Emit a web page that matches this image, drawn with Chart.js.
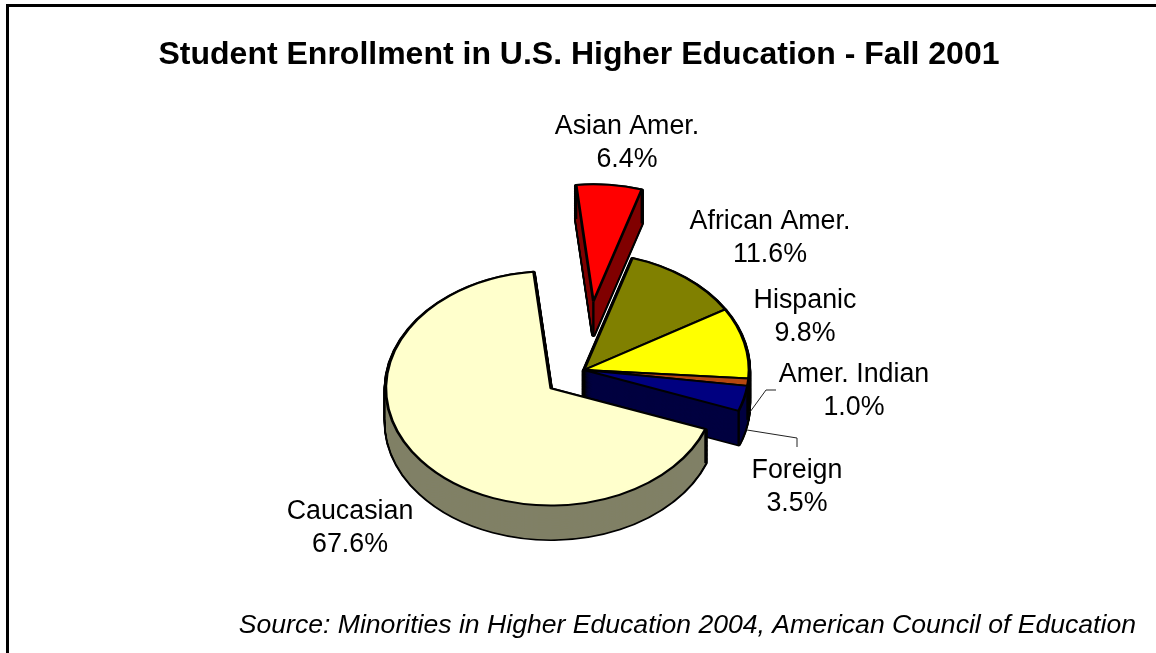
<!DOCTYPE html>
<html>
<head>
<meta charset="utf-8">
<title>Student Enrollment</title>
<script src="https://cdn.jsdelivr.net/npm/chart.js@4"></script>
<style>
  html, body { margin: 0; padding: 0; background: #fff; overflow: hidden; }
  canvas { display: block; }
</style>
</head>
<body>
<canvas id="chartEnroll" width="1156" height="653"></canvas>
<script>
const categories = ["Asian Amer.", "African Amer.", "Hispanic", "Amer. Indian", "Foreign", "Caucasian"];
const shares = [6.4, 11.6, 9.8, 1.0, 3.5, 67.6];
const chartTitle = "Student Enrollment in U.S. Higher Education - Fall 2001";
const sourceLine = "Source: Minorities in Higher Education 2004, American Council of Education";

const topColors = ["#FF0000", "#808000", "#FFFF00", "#B5480F", "#000080", "#FFFFCC"];
const sideColors = ["#800000", "#404000", "#808000", "#5A2408", "#000040", "#808066"];
// how far each slice is pulled out, px before the squash
const explode = [97, 0, 0, 0, 0, 42];

// pie placement on the page
const pieX = 584;
const pieY = 370;
const pieRadius = 165;
const squash = 0.71;
const depth = 34;
const fontName = '"Liberation Sans", Arial, sans-serif';
const labelCenters = [[627, 127], [770, 222], [805, 301], [854, 375], [797, 471], [350, 512]];
const lineGap = 33;
const leaders = [
  [[750, 412], [766, 390], [776, 390]],
  [[747, 430], [797, 438], [797, 447]]
];

let centerX = 0;
let centerY = 0;

const pie3d = {
  id: 'pie3d',
  afterDatasetsUpdate(chart) {
    // the offset option also changes the slice angle and radius, so move the arcs directly
    chart.getDatasetMeta(0).data.forEach((arc, i) => {
      centerX = arc.x;
      centerY = arc.y;
      const mid = (arc.startAngle + arc.endAngle) / 2;
      arc.x += Math.cos(mid) * explode[i];
      arc.y += Math.sin(mid) * explode[i];
    });
  },
  beforeDatasetsDraw(chart) {
    const ctx = chart.ctx;
    const arcs = chart.getDatasetMeta(0).data;
    ctx.save();
    ctx.translate(pieX - centerX, pieY);
    ctx.scale(1, squash);
    ctx.translate(0, -centerY);

    // walls: sweep each slice down, black first so only the silhouette stays
    const drop = depth / squash;
    arcs.forEach((arc, i) => {
      const real = arc.options;
      const base = { offset: 0, spacing: 0, borderRadius: 0, circular: true, borderAlign: 'center', borderJoinStyle: 'round', borderDash: [], borderDashOffset: 0 };
      arc.options = Object.assign({}, base, { backgroundColor: '#000', borderColor: '#000', borderWidth: 4.4 });
      for (let z = drop; z >= 0; z -= 1) {
        ctx.save();
        ctx.translate(0, z);
        arc.draw(ctx);
        ctx.restore();
      }
      arc.options = Object.assign({}, base, { backgroundColor: sideColors[i], borderColor: sideColors[i], borderWidth: 0 });
      for (let z = drop; z >= 0; z -= 1) {
        ctx.save();
        ctx.translate(0, z);
        arc.draw(ctx);
        ctx.restore();
      }
      arc.options = real;

      // vertical edges at the slice corners
      const corners = [[arc.x, arc.y],
        [arc.x + Math.cos(arc.startAngle) * arc.outerRadius, arc.y + Math.sin(arc.startAngle) * arc.outerRadius],
        [arc.x + Math.cos(arc.endAngle) * arc.outerRadius, arc.y + Math.sin(arc.endAngle) * arc.outerRadius]];
      ctx.strokeStyle = '#000';
      ctx.lineWidth = 2.4;
      corners.forEach(c => {
        ctx.beginPath();
        ctx.moveTo(c[0], c[1]);
        ctx.lineTo(c[0], c[1] + drop);
        ctx.stroke();
      });
    });
  },
  afterDatasetsDraw(chart) {
    chart.ctx.restore();
  },
  afterDraw(chart) {
    const ctx = chart.ctx;
    ctx.save();
    // frame is only open at the right and bottom
    ctx.fillStyle = '#000';
    ctx.fillRect(6, 4, 1150, 3);
    ctx.fillRect(6, 4, 3, 649);

    ctx.strokeStyle = '#222';
    ctx.lineWidth = 1;
    leaders.forEach(pts => {
      ctx.beginPath();
      pts.forEach((p, k) => k ? ctx.lineTo(p[0], p[1]) : ctx.moveTo(p[0], p[1]));
      ctx.stroke();
    });

    ctx.font = '26.8px ' + fontName;
    ctx.textAlign = 'center';
    ctx.textBaseline = 'middle';
    categories.forEach((name, i) => {
      const [x, y] = labelCenters[i];
      ctx.fillText(name, x, y);
      ctx.fillText(shares[i].toFixed(1) + '%', x, y + lineGap);
    });
    ctx.restore();
  }
};

new Chart(document.getElementById('chartEnroll'), {
  type: 'pie',
  data: {
    labels: categories,
    datasets: [{
      data: shares,
      backgroundColor: topColors,
      borderColor: '#000',
      borderWidth: 2.8,
      hoverOffset: 0,
      clip: false
    }]
  },
  options: {
    responsive: false,
    animation: false,
    rotation: -6,
    radius: pieRadius,
    layout: { padding: { left: 22, right: 20, top: 0, bottom: 0 } },
    plugins: {
      legend: { display: false },
      tooltip: { enabled: false },
      title: {
        display: true,
        text: chartTitle,
        color: '#000',
        font: { family: fontName, size: 32, weight: 'bold', lineHeight: 1.15 },
        padding: { top: 37, bottom: 10 }
      },
      subtitle: {
        display: true,
        position: 'bottom',
        align: 'end',
        text: sourceLine,
        color: '#000',
        font: { family: fontName, size: 26.6, style: 'italic', lineHeight: 1.15 },
        padding: { top: 4, bottom: 12 }
      }
    }
  },
  plugins: [pie3d]
});
</script>
</body>
</html>
